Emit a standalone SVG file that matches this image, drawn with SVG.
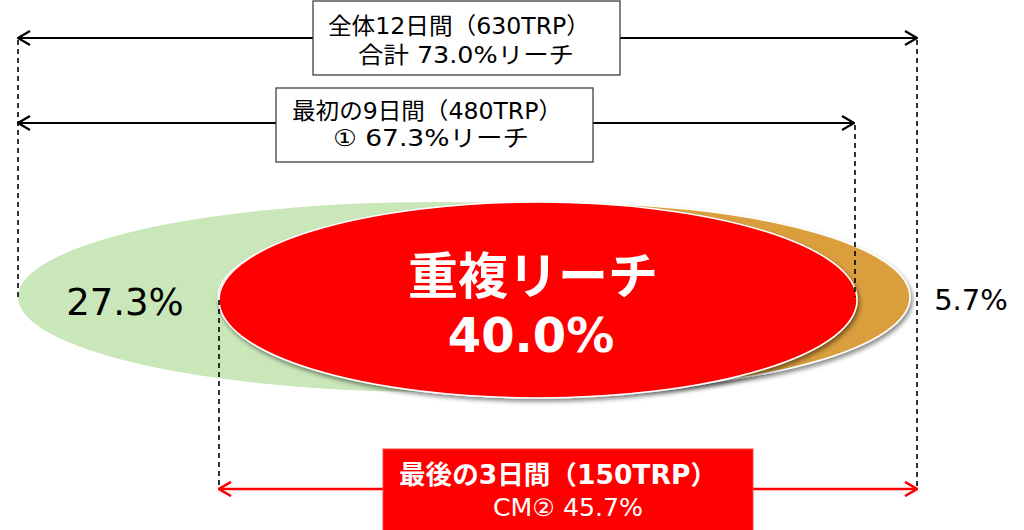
<svg xmlns="http://www.w3.org/2000/svg" width="1024" height="530" viewBox="0 0 1024 530">
<style>
.t{font-family:'DejaVu Sans','Noto Sans CJK JP',sans-serif;text-anchor:middle}
.box{fill:#fff;stroke:#404040;stroke-width:1.3}
.arr{fill:none;stroke:#000;stroke-width:2}
.arrR{fill:none;stroke:#ff0000;stroke-width:2.5}
.dash{fill:none;stroke:#000;stroke-width:1.6;stroke-dasharray:5 4}
</style>
<defs>
<marker id="mk" viewBox="0 0 14 16" refX="13" refY="8" markerWidth="14" markerHeight="16" markerUnits="userSpaceOnUse" orient="auto-start-reverse">
<path d="M1,1 L13,8 L1,15" fill="none" stroke="#000" stroke-width="2.2"/>
</marker>
<marker id="mkR" viewBox="0 0 14 16" refX="13" refY="8" markerWidth="14" markerHeight="16" markerUnits="userSpaceOnUse" orient="auto-start-reverse">
<path d="M1,1 L13,8 L1,15" fill="none" stroke="#ff0000" stroke-width="2.6"/>
</marker>
<filter id="sh" x="-10%" y="-10%" width="120%" height="130%">
<feDropShadow dx="2" dy="3" stdDeviation="2" flood-color="#000" flood-opacity="0.45"/>
</filter>
</defs>

<g id="green">
<ellipse cx="436" cy="297" rx="418" ry="95" fill="#c9e7b9"/>
</g>
<g id="orange">
<ellipse cx="564" cy="297" rx="346" ry="94" fill="#da9e3c" stroke="#fff" stroke-width="1.5" filter="url(#sh)"/>
</g>
<g id="red">
<ellipse cx="538" cy="300" rx="319" ry="98" fill="#ff0000" stroke="#fff" stroke-width="1.5" filter="url(#sh)"/>
<text class="t" x="533" y="294" font-size="50" font-weight="bold" fill="#fff">重複リーチ</text>
<text class="t" x="531" y="352" font-size="48" font-weight="bold" fill="#fff">40.0%</text>
</g>

<g id="connectors">
<line class="dash" x1="18" y1="40" x2="18" y2="297"/>
<line class="dash" x1="917" y1="40" x2="917" y2="489"/>
<line class="dash" x1="855" y1="125" x2="855" y2="297"/>
<line class="dash" x1="219" y1="300" x2="219" y2="489"/>
<line class="arr" x1="18" y1="38" x2="917" y2="38" marker-start="url(#mk)" marker-end="url(#mk)"/>
<line class="arr" x1="18" y1="123" x2="854" y2="123" marker-start="url(#mk)" marker-end="url(#mk)"/>
<line class="arrR" x1="219" y1="489" x2="917" y2="489" marker-start="url(#mkR)" marker-end="url(#mkR)"/>
</g>

<g id="label-left">
<text class="t" x="125" y="315" font-size="37" fill="#000">27.3%</text>
</g>
<g id="label-right">
<text class="t" x="971" y="310" font-size="29" fill="#000">5.7%</text>
</g>

<g id="box-total">
<rect class="box" x="313" y="1" width="307" height="74"/>
<text class="t" x="459" y="34" font-size="23" textLength="262" lengthAdjust="spacingAndGlyphs" fill="#000">全体12日間（630TRP）</text>
<text class="t" x="466" y="63" font-size="23" textLength="216" lengthAdjust="spacingAndGlyphs" fill="#000">合計 73.0%リーチ</text>
</g>

<g id="box-first">
<rect class="box" x="276" y="88" width="317" height="74"/>
<text class="t" x="427" y="119" font-size="23" textLength="270" lengthAdjust="spacingAndGlyphs" fill="#000">最初の9日間（480TRP）</text>
<text class="t" x="431" y="146" font-size="23" textLength="196" lengthAdjust="spacingAndGlyphs" fill="#000">① 67.3%リーチ</text>
</g>

<g id="box-last">
<rect x="383" y="449" width="370" height="82" fill="#ff0000" stroke="#ff4040" stroke-width="1"/>
<text class="t" x="558" y="484" font-size="26" font-weight="bold" textLength="318" lengthAdjust="spacingAndGlyphs" fill="#fff">最後の3日間（150TRP）</text>
<text class="t" x="568" y="516" font-size="24" textLength="150" lengthAdjust="spacingAndGlyphs" fill="#fff">CM② 45.7%</text>
</g>
</svg>
